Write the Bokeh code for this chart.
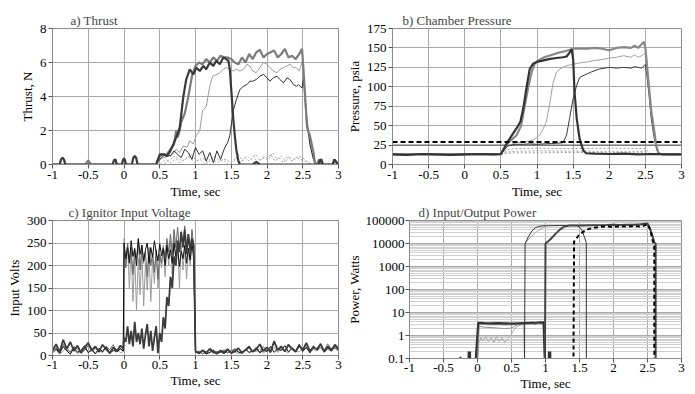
from bokeh.plotting import figure
from bokeh.layouts import column, row
from bokeh.models import FixedTicker, Range1d
from bokeh.embed import file_html
from bokeh.resources import INLINE

FONT = "Liberation Serif"

# ---------------- shared axis data ----------------
X_TICKS = [-1, -0.5, 0, 0.5, 1, 1.5, 2, 2.5, 3]
X_LABELS = ["-1", "-0.5", "0", "0.5", "1", "1.5", "2", "2.5", "3"]

# ---------------- a) Thrust ----------------
A_YTICKS = [0, 2, 4, 6, 8]
A_YLABELS = ["0", "2", "4", "6", "8"]
A1_T = [-1.0, -0.9, -0.88, -0.86, -0.84, -0.82, -0.16, -0.14, -0.12, -0.1, -0.03, -0.01, 0.0, 0.01, 0.03,
        0.11, 0.13, 0.15, 0.17, 0.19, 0.45, 0.5, 0.55, 0.6, 0.65, 0.7, 0.75, 0.78, 0.83, 0.87, 0.92, 0.97,
        1.01, 1.06, 1.11, 1.15, 1.2, 1.25, 1.29, 1.34, 1.39, 1.43, 1.46, 1.48, 1.5, 1.53, 1.55, 1.57, 1.6,
        1.62, 1.8, 1.85, 1.9, 2.72, 2.74, 2.76, 2.78, 2.92, 2.94, 2.96, 3.0]
A1_V = [0, 0, 0.3, 0.4, 0.3, 0, 0, 0.25, 0.3, 0, 0, 0.3, 0.35, 0.3, 0,
        0, 0.4, 0.5, 0.4, 0, 0, 0.6, 0.6, 0.5, 0.8, 1.3, 1.8, 2.2, 4.0, 5.0, 5.6, 5.3,
        5.7, 5.5, 5.8, 5.6, 6.0, 5.8, 6.1, 5.9, 6.3, 6.2, 6.1, 5.6, 4.4, 2.6, 1.7, 0.9, 0.2,
        0.0, 0.0, 0.15, 0.0, 0, 0.25, 0.3, 0, 0, 0.3, 0.2, 0]
A2_T = [-1.0, -0.54, -0.5, -0.46, 0.45, 0.5, 0.55, 0.6, 0.65, 0.7, 0.73, 0.75, 0.78, 0.8, 0.85, 0.9,
        0.95, 1.0, 1.05, 1.1, 1.15, 1.2, 1.25, 1.3, 1.35, 1.4, 1.45, 1.5, 1.55, 1.6, 1.65, 1.7, 1.75,
        1.8, 1.85, 1.9, 1.95, 2.0, 2.05, 2.1, 2.15, 2.2, 2.25, 2.3, 2.35, 2.4, 2.45, 2.49, 2.51, 2.56,
        2.6, 2.65, 2.67, 2.7, 2.73, 2.76, 2.8, 2.92, 2.95, 2.98, 3.0]
A2_V = [0, 0, 0.25, 0, 0, 0.5, 0.6, 0.6, 0.9, 1.2, 2.0, 1.6, 2.0, 2.5, 3.0, 4.0,
        5.2, 5.8, 6.0, 5.9, 6.2, 6.0, 6.3, 6.1, 6.4, 6.3, 6.3, 6.2, 6.0, 5.9, 6.3, 6.0, 6.5,
        6.2, 6.6, 6.75, 6.3, 6.5, 6.6, 6.7, 6.3, 6.5, 6.8, 6.3, 6.4, 6.2, 6.5, 6.8, 5.6, 2.2,
        1.7, 0.7, 0.1, 0, 0.3, 0, 0, 0, 0.3, 0, 0]
A3_T = [-1.0, 0.45, 0.5, 0.55, 0.64, 0.7, 0.73, 0.78, 0.83, 0.88, 0.92, 0.97, 1.01, 1.06, 1.1, 1.15,
        1.2, 1.24, 1.3, 1.34, 1.39, 1.43, 1.48, 1.53, 1.57, 1.62, 1.67, 1.72, 1.76, 1.8, 1.85, 1.9,
        1.95, 2.0, 2.04, 2.09, 2.14, 2.18, 2.23, 2.28, 2.32, 2.37, 2.41, 2.45, 2.49, 2.51, 2.55, 2.6,
        2.65, 2.68, 3.0]
A3_V = [0, 0, 0.3, 0.4, 0.5, 0.7, 0.9, 0.7, 1.1, 1.0, 1.4, 1.2, 1.7, 2.0, 3.2, 3.4,
        4.6, 5.2, 5.3, 5.4, 5.6, 5.7, 5.6, 5.5, 5.6, 5.5, 5.6, 5.9, 5.8, 5.5, 5.4, 5.7,
        6.0, 5.9, 5.7, 5.5, 5.4, 5.6, 5.7, 5.8, 5.9, 5.7, 5.7, 5.5, 6.0, 5.0, 2.5, 1.2,
        0.3, 0, 0]
A4_T = [-1.0, 0.45, 0.5, 0.55, 0.6, 0.65, 0.7, 0.75, 0.8, 0.85, 0.9, 0.95, 1.0, 1.05, 1.1, 1.15,
        1.2, 1.25, 1.3, 1.35, 1.4, 1.45, 1.48, 1.53, 1.57, 1.62, 1.67, 1.72, 1.76, 1.8, 1.85, 1.9,
        1.95, 2.0, 2.04, 2.09, 2.14, 2.18, 2.23, 2.28, 2.32, 2.37, 2.41, 2.44, 2.49, 2.51, 2.55, 2.6,
        2.65, 2.68, 3.0]
A4_V = [0, 0, 0.3, 0.5, 0.6, 0.5, 0.8, 0.6, 0.4, 0.9, 0.7, 0.3, 1.0, 0.6, 0.8, 0.2,
        0.7, 0.1, 0.8, 0.3, 0.9, 1.3, 1.7, 3.2, 3.8, 4.4, 4.6, 4.7, 4.9, 4.9, 5.0, 5.2,
        5.3, 5.1, 4.9, 5.1, 5.2, 5.0, 4.8, 5.1, 5.0, 4.7, 4.6, 4.7, 4.5, 5.1, 3.0, 1.2,
        0.3, 0, 0]
A5_T = [-1.0, 0.5, 0.58, 0.66, 0.74, 0.82, 0.9, 0.98, 1.06, 1.14, 1.22, 1.3, 1.38, 1.46, 1.54, 1.6,
        1.66, 1.72, 1.78, 1.84, 1.9, 1.96, 2.02, 2.08, 2.14, 2.2, 2.26, 2.32, 2.38, 2.44, 2.5, 2.56,
        2.62, 3.0]
A5_V = [0, 0, 0.3, 0.1, 0.4, 0.2, 0.5, 0.1, 0.3, 0.0, 0.4, 0.1, 0.3, 0.0, 0.2, 0.6,
        0.2, 0.5, 0.3, 0.6, 0.2, 0.5, 0.3, 0.7, 0.3, 0.5, 0.2, 0.4, 0.3, 0.5, 0.4, 0.2,
        0.0, 0]
A6_T = [-1.0, 0.55, 0.62, 0.7, 0.78, 0.86, 0.94, 1.02, 1.1, 1.18, 1.26, 1.34, 1.42, 1.5, 1.57, 1.63,
        1.69, 1.75, 1.81, 1.87, 1.93, 1.99, 2.05, 2.11, 2.17, 2.23, 2.29, 2.35, 2.41, 2.47, 2.53, 2.6, 3.0]
A6_V = [0, 0, 0.2, 0.5, 0.1, 0.3, 0.6, 0.2, 0.4, 0.1, 0.5, 0.2, 0.3, 0.1, 0.4, 0.1,
        0.4, 0.2, 0.5, 0.1, 0.4, 0.3, 0.6, 0.2, 0.4, 0.1, 0.5, 0.2, 0.4, 0.3, 0.2, 0, 0]

# ---------------- b) Chamber Pressure ----------------
B_YTICKS = [0, 25, 50, 75, 100, 125, 150, 175]
B_YLABELS = ["0", "25", "50", "75", "100", "125", "150", "175"]
B1_T = [-1.0, -0.8, -0.6, -0.4, -0.2, 0.0, 0.2, 0.4, 0.5, 0.54, 0.58, 0.62, 0.67, 0.72, 0.77, 0.81,
        0.86, 0.9, 0.95, 1.0, 1.09, 1.18, 1.27, 1.36, 1.41, 1.45, 1.48, 1.5, 1.52, 1.55, 1.59, 1.64,
        1.68, 1.8, 2.0, 2.2, 2.4, 2.6, 2.8, 3.0]
B1_V = [13, 12.5, 13.5, 13, 12.5, 13, 13.5, 13, 13.5, 20, 27, 33, 40, 47, 55, 72,
        102, 123, 130, 132, 134, 136, 137, 138, 139, 144, 148, 136, 93, 59, 33, 18,
        14.5, 14, 13.5, 14, 13, 13.5, 13, 13]
B2_T = [-1.0, 0.5, 0.54, 0.58, 0.65, 0.72, 0.78, 0.82, 0.88, 0.93, 0.97, 1.0, 1.1, 1.2, 1.3, 1.4,
        1.5, 1.6, 1.7, 1.8, 1.9, 2.0, 2.1, 2.2, 2.3, 2.35, 2.4, 2.45, 2.48, 2.5, 2.52, 2.55,
        2.58, 2.62, 2.65, 2.68, 2.72, 3.0]
B2_V = [13, 13, 20, 26, 32, 38, 50, 70, 100, 120, 130, 133, 138, 141, 144, 146,
        149, 149, 149, 150, 149, 147, 150, 151, 150, 153, 150, 155, 158, 150, 130, 100,
        70, 45, 25, 15, 13, 13]
B3_T = [-1.0, 0.5, 0.55, 0.6, 0.7, 0.8, 0.9, 0.95, 1.0, 1.04, 1.08, 1.13, 1.18, 1.22, 1.27, 1.32,
        1.4, 1.5, 1.6, 1.7, 1.8, 1.9, 2.0, 2.1, 2.2, 2.3, 2.35, 2.4, 2.45, 2.5, 2.52, 2.55,
        2.58, 2.62, 2.66, 2.7, 3.0]
B3_V = [13, 13, 19, 24, 28, 29, 30, 32, 35, 38, 45, 55, 80, 104, 119, 123,
        127, 129, 131, 132, 134, 135, 137, 138, 140, 138, 141, 138, 140, 143, 125, 95,
        65, 40, 20, 13, 13]
B4_T = [-1.0, 0.5, 0.55, 0.6, 0.7, 0.8, 0.9, 1.0, 1.1, 1.2, 1.3, 1.36, 1.41, 1.45, 1.5, 1.55,
        1.59, 1.63, 1.68, 1.75, 1.87, 2.0, 2.1, 2.2, 2.3, 2.35, 2.4, 2.45, 2.5, 2.52, 2.55, 2.58,
        2.62, 2.66, 2.7, 3.0]
B4_V = [13, 13, 19, 24, 26, 26, 26.5, 26, 26.5, 27, 27.5, 28, 38, 59, 85, 102,
        112, 114, 116, 119, 123, 125, 124, 125, 124, 126, 125, 124, 129, 115, 90, 60,
        35, 18, 13, 13]
BD_T = [0.5, 0.6, 0.7, 1.0, 1.5, 2.0, 2.5, 2.55, 2.6]
BD1_V = [13, 19, 20.5, 21, 20.5, 21, 20.5, 15, 13]
BD2_V = [13, 16, 17, 17.5, 17, 17, 17, 14, 13]
BD3_V = [13, 14.5, 15, 15, 15.5, 15, 15, 13.5, 13]
B_REF_T = [-1, 3]
B_REF_DASHED = 29
B_REF_SOLID = 25

# ---------------- c) Ignitor Input Voltage ----------------
C_YTICKS = [0, 50, 100, 150, 200, 250, 300]
C_YLABELS = ["0", "50", "100", "150", "200", "250", "300"]
VT_PRE = [-1.0, -0.95, -0.9, -0.85, -0.8, -0.75, -0.7, -0.65, -0.6, -0.55,
          -0.5, -0.45, -0.4, -0.35, -0.3, -0.25, -0.2, -0.15, -0.1, -0.05, -0.01]
VT_ON = [0.0, 0.025, 0.05, 0.075, 0.1, 0.125, 0.15, 0.175, 0.2, 0.225,
         0.25, 0.275, 0.3, 0.325, 0.35, 0.375, 0.4, 0.425, 0.45, 0.475,
         0.5, 0.525, 0.55, 0.575, 0.6, 0.625, 0.65, 0.675, 0.7, 0.725,
         0.75, 0.775, 0.8, 0.825, 0.85, 0.875, 0.9, 0.925, 0.95, 0.975]
VT_POST = [1.0, 1.05, 1.1, 1.15, 1.2, 1.25, 1.3, 1.35, 1.4, 1.45,
           1.5, 1.55, 1.6, 1.65, 1.7, 1.75, 1.8, 1.85, 1.9, 1.95,
           2.0, 2.05, 2.1, 2.15, 2.2, 2.25, 2.3, 2.35, 2.4, 2.45,
           2.5, 2.55, 2.6, 2.65, 2.7, 2.75, 2.8, 2.85, 2.9, 2.95, 3.0]
C1 = ([8, 15, 5, 20, 10, 3, 18, 7, 12, 22, 6, 14, 4, 16, 9, 20, 5, 12, 8, 15, 10],
      [250, 215, 240, 205, 255, 220, 238, 200, 260, 225, 245, 210, 235, 250, 205, 240, 218, 255, 230, 210,
       248, 222, 238, 200, 245, 215, 235, 205, 250, 220, 240, 198, 232, 215, 245, 205, 238, 212, 250, 220],
      [8, 4, 10, 3, 7, 12, 5, 9, 4, 11, 6, 13, 8, 5, 14, 7, 10, 18, 6, 12,
       9, 20, 7, 15, 11, 22, 8, 16, 10, 24, 9, 18, 6, 20, 12, 25, 8, 17, 10, 21, 12])
C2 = ([12, 25, 8, 35, 15, 30, 10, 22, 6, 18, 28, 12, 20, 8, 24, 14, 5, 18, 10, 22, 15],
      [40, 30, 65, 25, 55, 20, 75, 30, 50, 25, 60, 15, 45, 70, 20, 55, 10, 40, 65, 5,
       50, 30, 85, 60, 130, 110, 175, 150, 220, 200, 255, 230, 275, 240, 280, 225, 270, 235, 260, 245],
      [10, 5, 12, 6, 15, 8, 4, 11, 7, 14, 5, 9, 16, 6, 12, 20, 8, 14, 25, 10,
       18, 7, 32, 12, 20, 9, 24, 15, 8, 22, 12, 28, 10, 18, 14, 26, 9, 20, 12, 24, 15])
C3 = ([5, 12, 3, 10, 18, 6, 14, 4, 9, 16, 7, 11, 3, 13, 8, 17, 5, 10, 14, 6, 9],
      [260, 200, 245, 150, 235, 120, 225, 100, 215, 135, 235, 110, 205, 145, 225, 120, 215, 160, 235, 150,
       225, 195, 245, 175, 250, 200, 255, 180, 265, 200, 255, 150, 245, 190, 240, 170, 235, 200, 245, 210],
      [5, 9, 3, 8, 6, 11, 4, 7, 10, 5, 12, 8, 4, 9, 14, 6, 11, 8, 16, 5,
       13, 9, 18, 7, 14, 10, 6, 19, 11, 8, 15, 22, 7, 13, 10, 17, 6, 14, 9, 18, 10])
C4 = ([10, 18, 6, 25, 12, 8, 20, 15, 5, 12, 22, 9, 16, 11, 7, 19, 13, 24, 9, 14, 11],
      [230, 195, 250, 210, 240, 180, 235, 215, 255, 190, 245, 205, 230, 175, 240, 200, 228, 185, 235, 170,
       225, 205, 240, 220, 260, 230, 270, 225, 280, 240, 285, 230, 275, 245, 288, 235, 270, 220, 280, 245],
      [6, 10, 4, 8, 12, 5, 9, 7, 13, 6, 10, 15, 8, 5, 11, 17, 9, 13, 7, 20,
       10, 15, 28, 12, 18, 8, 21, 14, 10, 25, 13, 17, 9, 22, 12, 19, 11, 26, 14, 16, 12])

# ---------------- d) Input/Output Power ----------------
D_YTICKS = [0.1, 1, 10, 100, 1000, 10000, 100000]
D_YLABELS = ["0.1", "1", "10", "100", "1000", "10000", "100000"]
DI1_T = [-1.0, -0.26, -0.25, -0.24, -0.14, -0.13, -0.12, -0.11, -0.1, -0.05, 0.01, 0.1, 0.2, 0.3, 0.4,
         0.5, 0.6, 0.7, 0.8, 0.9, 0.97, 1.0, 1.04, 1.05, 1.06, 1.07, 1.08, 3.0]
DI1_V = [0.01, 0.01, 0.12, 0.01, 0.01, 0.2, 0.13, 0.2, 0.01, 0.01, 3.6, 3.5, 3.4, 3.5, 3.4,
         3.3, 3.4, 3.5, 3.6, 3.7, 3.8, 0.01, 0.01, 0.2, 0.13, 0.2, 0.01, 0.01]
DI2_T = [-1.0, -0.03, 0.02, 0.1, 0.2, 0.3, 0.4, 0.5, 0.6, 0.7, 0.8, 0.85, 0.9, 0.95, 0.98, 1.0, 3.0]
DI2_V = [0.01, 0.01, 3.3, 3.2, 3.1, 3.2, 3.0, 3.1, 3.2, 3.3, 3.6, 3.2, 3.8, 3.3, 3.9, 0.01, 0.01]
DI3_T = [-1.0, -0.02, 0.0, 0.1, 0.2, 0.3, 0.4, 0.5, 0.55, 0.6, 0.65, 0.68, 0.7, 3.0]
DI3_V = [0.01, 0.01, 2.6, 2.3, 2.2, 2.1, 2.0, 2.1, 2.6, 3.0, 3.1, 3.0, 0.01, 0.01]
DI4_T = [-1.0, -0.01, 0.02, 0.05, 0.08, 0.12, 0.16, 0.2, 0.24, 0.28, 0.32, 0.36, 0.4, 0.44, 0.48,
         0.52, 0.56, 0.6, 0.65, 0.7, 0.8, 0.9, 0.98, 1.0, 3.0]
DI4_V = [0.01, 0.01, 0.5, 0.8, 0.6, 0.9, 0.55, 0.85, 0.5, 0.9, 0.55, 0.8, 0.5, 0.7, 0.9,
         1.5, 2.2, 2.6, 2.9, 3.0, 3.1, 3.2, 3.3, 0.01, 0.01]
DO1_T = [-1.0, 0.69, 0.7, 0.75, 0.8, 0.85, 0.9, 0.95, 1.0, 1.2, 1.4, 1.45, 1.48, 1.53, 1.57, 1.6, 1.6, 3.0]
DO1_V = [0.01, 0.01, 10000, 20000, 35000, 48000, 55000, 58000, 59000, 60000, 61000, 60000, 58000,
         41000, 20000, 11000, 0.01, 0.01]
DO2_T = [0.72, 0.8, 0.9, 1.0]
DO2_V = [12000, 22000, 38000, 56000]
DO3_T = [-1.0, 0.99, 1.0, 1.07, 1.14, 1.21, 1.28, 1.35, 1.5, 1.7, 1.9, 2.0, 2.1, 2.2, 2.3, 2.4, 2.5,
         2.54, 2.58, 2.6, 2.62, 2.62, 3.0]
DO3_V = [0.01, 0.01, 10000, 15000, 25000, 40000, 55000, 60000, 61000, 62000, 63000, 65000, 64000,
         66000, 65000, 68000, 74000, 41000, 18000, 11000, 10000, 0.01, 0.01]
DO4_T = [-1.0, 1.41, 1.42, 1.5, 1.56, 1.62, 1.7, 1.82, 1.9, 2.0, 2.1, 2.2, 2.3, 2.4, 2.45, 2.5,
         2.54, 2.58, 2.6, 2.6, 3.0]
DO4_V = [0.01, 0.01, 12000, 25000, 33000, 41000, 48000, 53000, 55000, 52000, 56000, 54000, 57000,
         55000, 60000, 70000, 40000, 12000, 9000, 0.01, 0.01]


def check(name, a, b):
    if len(a) != len(b):
        raise ValueError(f"{name}: {len(a)} vs {len(b)}")


for nm, a, b in [("A1", A1_T, A1_V), ("A2", A2_T, A2_V), ("A3", A3_T, A3_V), ("A4", A4_T, A4_V),
                 ("A5", A5_T, A5_V), ("A6", A6_T, A6_V), ("B1", B1_T, B1_V), ("B2", B2_T, B2_V),
                 ("B3", B3_T, B3_V), ("B4", B4_T, B4_V), ("DI1", DI1_T, DI1_V), ("DI2", DI2_T, DI2_V),
                 ("DI3", DI3_T, DI3_V), ("DI4", DI4_T, DI4_V), ("DO1", DO1_T, DO1_V),
                 ("DO3", DO3_T, DO3_V), ("DO4", DO4_T, DO4_V)]:
    check(nm, a, b)
for nm, c in [("C1", C1), ("C2", C2), ("C3", C3), ("C4", C4)]:
    check(nm + "pre", VT_PRE, c[0])
    check(nm + "on", VT_ON, c[1])
    check(nm + "post", VT_POST, c[2])


def make_fig(width, height, borders, y_range, title, title_offset, ylabel, yticks, ylabels,
             log=False, minor=None, xstand=(2, 2), ystand=(2, 2)):
    left, right, top, bottom = borders
    kw = dict(width=width, height=height, output_backend="svg", toolbar_location=None,
              x_range=Range1d(-1, 3), y_range=y_range, title=title,
              min_border_left=left, min_border_right=right, min_border_top=top,
              min_border_bottom=bottom, background_fill_color="white",
              border_fill_color="white")
    if log:
        kw["y_axis_type"] = "log"
    p = figure(**kw)
    p.title.text_font = FONT
    p.title.text_font_size = "13px"
    p.title.text_font_style = "normal"
    p.title.offset = title_offset
    p.title.standoff = 2
    p.outline_line_color = "#8c8c8c"
    p.xaxis.ticker = FixedTicker(ticks=X_TICKS)
    p.xaxis.major_label_overrides = {t: l for t, l in zip(X_TICKS, X_LABELS)}
    if minor is not None:
        p.yaxis.ticker = FixedTicker(ticks=yticks, minor_ticks=minor)
    else:
        p.yaxis.ticker = FixedTicker(ticks=yticks)
    p.yaxis.major_label_overrides = {t: l for t, l in zip(yticks, ylabels)}
    p.xaxis.axis_label = "Time, sec"
    p.yaxis.axis_label = ylabel
    for ax, st in [(p.xaxis[0], xstand), (p.yaxis[0], ystand)]:
        ax.axis_label_text_font = FONT
        ax.axis_label_text_font_size = "13px"
        ax.axis_label_text_font_style = "normal"
        ax.axis_label_text_color = "black"
        ax.major_label_text_font = FONT
        ax.major_label_text_font_size = "13px"
        ax.major_label_text_color = "black"
        ax.axis_line_color = "#8c8c8c"
        ax.major_tick_line_color = "#555555"
        ax.major_tick_out = 4
        ax.major_tick_in = 0
        ax.minor_tick_out = 0
        ax.minor_tick_in = 0
        ax.major_label_standoff = st[0]
        ax.axis_label_standoff = st[1]
    p.grid.grid_line_color = "#a9a9a9"
    p.grid.grid_line_width = 1
    if minor is not None:
        p.ygrid.minor_grid_line_color = "#cfcfcf"
    return p


# ---- a ----
pa = make_fig(343, 201, (52, 5, 28, 37), Range1d(0, 8), "a) Thrust", 18, "Thrust, N",
              A_YTICKS, A_YLABELS)
pa.line(A6_T, A6_V, line_color="#9a9a9a", line_width=1, line_dash="2 2")
pa.line(A5_T, A5_V, line_color="#b0b0b0", line_width=1, line_dash="2 2")
pa.line(A3_T, A3_V, line_color="#9c9c9c", line_width=1)
pa.line(A4_T, A4_V, line_color="#2e2e2e", line_width=1)
pa.line(A2_T, A2_V, line_color="#7c7c7c", line_width=2.2)
pa.line(A1_T, A1_V, line_color="#3a3a3a", line_width=2.2)

# ---- b ----
pb = make_fig(345, 201, (45, 7, 28, 37), Range1d(0, 175), "b) Chamber Pressure", 10,
              "Pressure, psia", B_YTICKS, B_YLABELS)
pb.line(B_REF_T, [B_REF_SOLID] * len(B_REF_T), line_color="#555555", line_width=1)
pb.line(BD_T, BD1_V, line_color="#a0a0a0", line_width=1, line_dash="2 2")
pb.line(BD_T, BD2_V, line_color="#a0a0a0", line_width=1, line_dash="2 2")
pb.line(BD_T, BD3_V, line_color="#a0a0a0", line_width=1, line_dash="2 2")
pb.line(B3_T, B3_V, line_color="#a0a0a0", line_width=1)
pb.line(B4_T, B4_V, line_color="#3a3a3a", line_width=1)
pb.line(B2_T, B2_V, line_color="#888888", line_width=2.2)
pb.line(B1_T, B1_V, line_color="#333333", line_width=2.2)
pb.line(B_REF_T, [B_REF_DASHED] * len(B_REF_T), line_color="black", line_width=2, line_dash="5 3")

# ---- c ----
pc = make_fig(343, 189, (52, 5, 18, 35), Range1d(0, 300), "c) Ignitor Input Voltage", 16,
              "Input Volts", C_YTICKS, C_YLABELS, xstand=(1, 1))
VT_ALL = VT_PRE + VT_ON + VT_POST
for series, col, w in [(C3, "#9a9a9a", 1), (C4, "#666666", 1), (C1, "#111111", 1), (C2, "#3c3c3c", 1.8)]:
    pc.line(VT_ALL, series[0] + series[1] + series[2], line_color=col, line_width=w)

# ---- d ----
minor_d = [m * 10 ** k for k in range(-1, 5) for m in range(2, 10)]
pd_ = make_fig(345, 192, (63, 7, 18, 35), Range1d(0.1, 100000), "d) Input/Output Power", 9,
               "Power, Watts", D_YTICKS, D_YLABELS, log=True, minor=minor_d,
               xstand=(1, 1), ystand=(1, 1))
pd_.line(DI4_T, DI4_V, line_color="#a8a8a8", line_width=1)
pd_.line(DI3_T, DI3_V, line_color="#8c8c8c", line_width=1)
pd_.line(DI2_T, DI2_V, line_color="#7c7c7c", line_width=2)
pd_.line(DI1_T, DI1_V, line_color="#333333", line_width=2)
pd_.line(DO2_T, DO2_V, line_color="#a8a8a8", line_width=1)
pd_.line(DO1_T, DO1_V, line_color="#333333", line_width=1)
pd_.line(DO3_T, DO3_V, line_color="#444444", line_width=2)
pd_.line(DO4_T, DO4_V, line_color="black", line_width=2, line_dash="4 3")

layout = column(row(pa, pb), row(pc, pd_))
open("out.html", "w").write(file_html(layout, INLINE))
